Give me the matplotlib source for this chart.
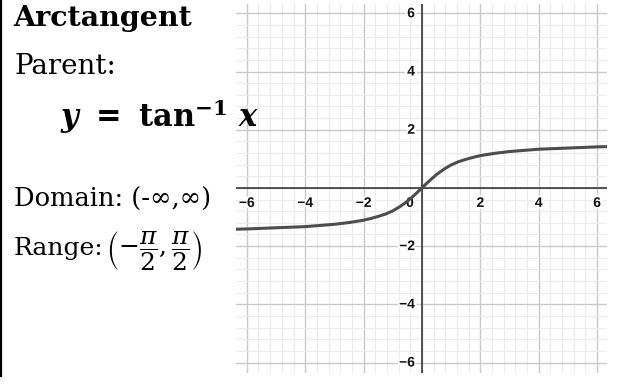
import numpy as np
import matplotlib
matplotlib.use("Agg")
import matplotlib.pyplot as plt
import matplotlib.patheffects as pe
from matplotlib.ticker import MultipleLocator

# points read along the curve y = arctan(x)
curve_x = [-6.4, -6, -5, -4, -3.5, -3, -2.5, -2, -1.75, -1.5, -1.25, -1, -0.75, -0.5, -0.25,
           0, 0.25, 0.5, 0.75, 1, 1.25, 1.5, 1.75, 2, 2.5, 3, 3.5, 4, 5, 6, 6.4]
curve_y = [-1.42, -1.41, -1.37, -1.33, -1.29, -1.25, -1.19, -1.11, -1.05, -0.98, -0.90, -0.79, -0.64, -0.46, -0.24,
           0.0, 0.24, 0.46, 0.64, 0.79, 0.90, 0.98, 1.05, 1.11, 1.19, 1.25, 1.29, 1.33, 1.37, 1.41, 1.42]
tick_vals = [-6, -4, -2, 2, 4, 6]
tick_text = ["\u22126", "\u22124", "\u22122", "2", "4", "6"]

plt.rcParams["mathtext.rm"] = "DejaVu Serif:bold"
plt.rcParams["mathtext.it"] = "DejaVu Serif:italic:bold"
plt.rcParams["mathtext.bf"] = "DejaVu Serif:bold"

W, H = 621, 391
fig = plt.figure(figsize=(W / 100, H / 100), dpi=100)

# graph panel
ax = fig.add_axes([236 / W, (H - 373) / H, (607 - 236) / W, (373 - 4) / H])
ax.set_xlim(-6.37, 6.34)
ax.set_ylim(-6.36, 6.32)
for s in ax.spines.values():
    s.set_visible(False)
ax.xaxis.set_major_locator(MultipleLocator(2))
ax.yaxis.set_major_locator(MultipleLocator(2))
ax.xaxis.set_minor_locator(MultipleLocator(0.4))
ax.yaxis.set_minor_locator(MultipleLocator(0.4))
ax.grid(which="minor", color="#ebebeb", lw=0.8)
ax.grid(which="major", color="#c9c9c9", lw=1.0)
ax.tick_params(which="both", length=0, labelbottom=False, labelleft=False)
ax.set_axisbelow(True)
ax.axhline(0, color="#2b2b2b", lw=1.1, zorder=2)
ax.axvline(0, color="#2b2b2b", lw=1.1, zorder=2)

halo = [pe.withStroke(linewidth=3, foreground="white")]
lbl = dict(fontsize=10, fontweight="bold", family="Liberation Sans", color="#111111",
           path_effects=halo, textcoords="offset pixels", zorder=3)
for v, t in zip(tick_vals, tick_text):
    ax.annotate(t, (v, 0), xytext=(0, -15), ha="center", va="center", **lbl)
    ax.annotate(t, (0, v), xytext=(-7, 0), ha="right", va="center", **lbl)
ax.annotate("0", (0, 0), xytext=(-12, -15), ha="center", va="center", **lbl)

ax.plot(curve_x, curve_y, color="#4d4d4d", lw=2.2, solid_capstyle="round", zorder=4)

# text panel on the left, in pixel coordinates
tx = fig.add_axes([0, 0, 1, 1], zorder=5)
tx.set_xlim(0, W)
tx.set_ylim(H, 0)
tx.axis("off")
tx.patch.set_alpha(0)
tx.plot([1, 1], [0, 376], color="black", lw=1.6)

serif = "DejaVu Serif"
tx.text(13, 26, "Arctangent", family=serif, fontweight="bold", fontsize=20.5, color="black", va="baseline")
tx.text(14, 74, "Parent:", family=serif, fontsize=20, color="black", va="baseline")
tx.text(60, 127, r"$y\ =\ \mathrm{tan}^{-1}\ x$", fontsize=22, math_fontfamily="custom",
        color="black", va="baseline")
tx.text(14, 207, "Domain: (-\u221e,\u221e)", family=serif, fontsize=18.5, color="black", va="baseline")
tx.text(14, 255, "Range:", family=serif, fontsize=18, color="black", va="baseline")
tx.text(106, 255, r"$\left(-\dfrac{\pi}{2},\dfrac{\pi}{2}\right)$", fontsize=18,
        math_fontfamily="dejavuserif", color="black", va="baseline")

fig.savefig("out.png", dpi=100)
